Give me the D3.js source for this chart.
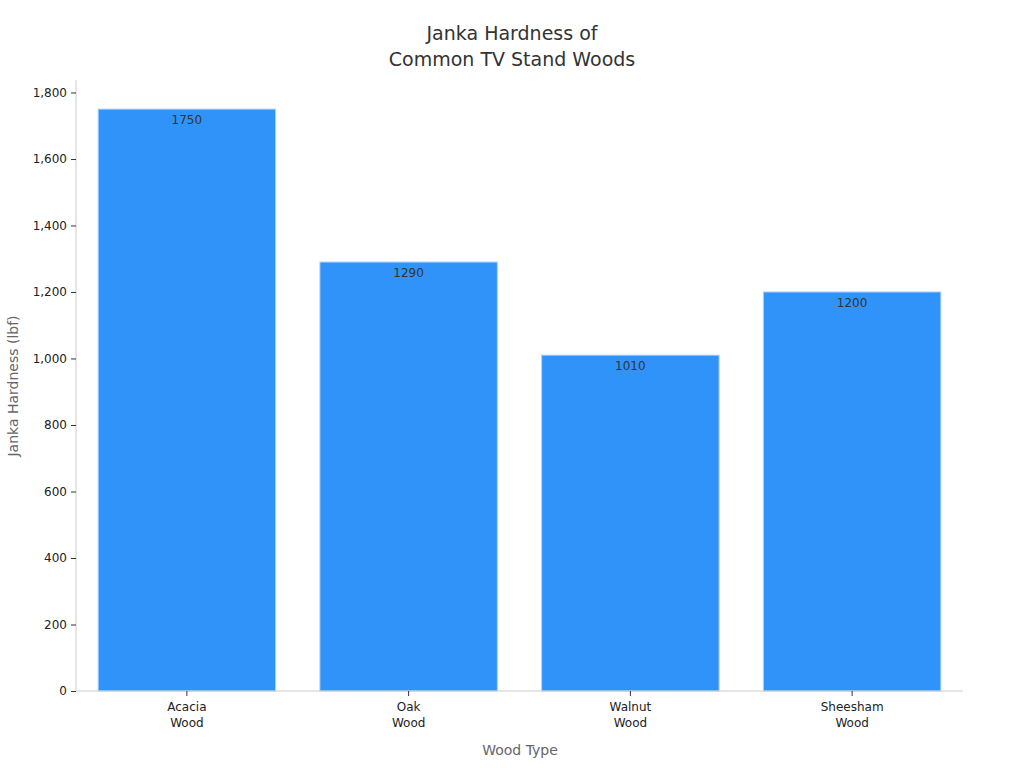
<!DOCTYPE html>
<html><head><meta charset="utf-8">
<script src="https://cdn.jsdelivr.net/npm/d3@7/dist/d3.min.js"></script>
<style>body{margin:0;background:#fff;font-family:"DejaVu Sans",sans-serif}</style>
</head><body><svg id="c" width="1024" height="768"></svg>
<script>
const categories = ["Acacia\nWood","Oak\nWood","Walnut\nWood","Sheesham\nWood"];
const values = [1750,1290,1010,1200];
const yTicks = [0,200,400,600,800,1000,1200,1400,1600,1800];

const svg = d3.select("#c");
const L=76,R=963,T=80,B=691;
const x = d3.scaleBand().domain(categories).range([L,R]).paddingInner(0.2).paddingOuter(0.1);
const y = d3.scaleLinear().domain([0,1837.5]).range([B,T]);

svg.append("text").attr("x",512).attr("y",40).attr("text-anchor","middle").attr("font-size",19).attr("fill","#333").text("Janka Hardness of");
svg.append("text").attr("x",512).attr("y",66).attr("text-anchor","middle").attr("font-size",19).attr("fill","#333").text("Common TV Stand Woods");

svg.selectAll("rect.bar").data(values).join("rect")
 .attr("x",(d,i)=>x(categories[i])).attr("width",x.bandwidth())
 .attr("y",d=>y(d)).attr("height",d=>B-y(d))
 .attr("fill","#2f93f9").attr("stroke","#a9d0fb").attr("stroke-width",1);

svg.selectAll("text.val").data(values).join("text")
 .attr("x",(d,i)=>x(categories[i])+x.bandwidth()/2).attr("y",d=>y(d)+15)
 .attr("text-anchor","middle").attr("font-size",12).attr("fill","#333").text(d=>d);

const ya = svg.append("g").attr("transform",`translate(${L},0)`).call(d3.axisLeft(y).tickValues(yTicks).tickSize(5).tickPadding(4));
ya.select(".domain").attr("stroke","#ccc").attr("d",`M0,${T}V${B}`);
ya.selectAll(".tick line").attr("stroke","#333");
ya.selectAll(".tick text").attr("font-size",12).attr("fill","#222").attr("font-family","DejaVu Sans");

const xa = svg.append("g").attr("transform",`translate(0,${B})`).call(d3.axisBottom(x).tickSize(5).tickFormat(""));
xa.select(".domain").attr("stroke","#ccc").attr("d",`M${L},0H${R}`);
xa.selectAll(".tick line").attr("stroke","#333");
xa.selectAll(".tick").each(function(d){
  const t=d3.select(this).append("text").attr("text-anchor","middle").attr("font-size",12).attr("fill","#222").attr("font-family","DejaVu Sans");
  d.split("\n").forEach((s,i)=>t.append("tspan").attr("x",0).attr("y",20+i*16).text(s));
});

svg.append("text").attr("x",520).attr("y",755).attr("text-anchor","middle").attr("font-size",14).attr("fill","#666").text("Wood Type");
svg.append("text").attr("transform","translate(18,386) rotate(-90)").attr("text-anchor","middle").attr("font-size",14).attr("fill","#666").text("Janka Hardness (lbf)");
</script></body></html>
